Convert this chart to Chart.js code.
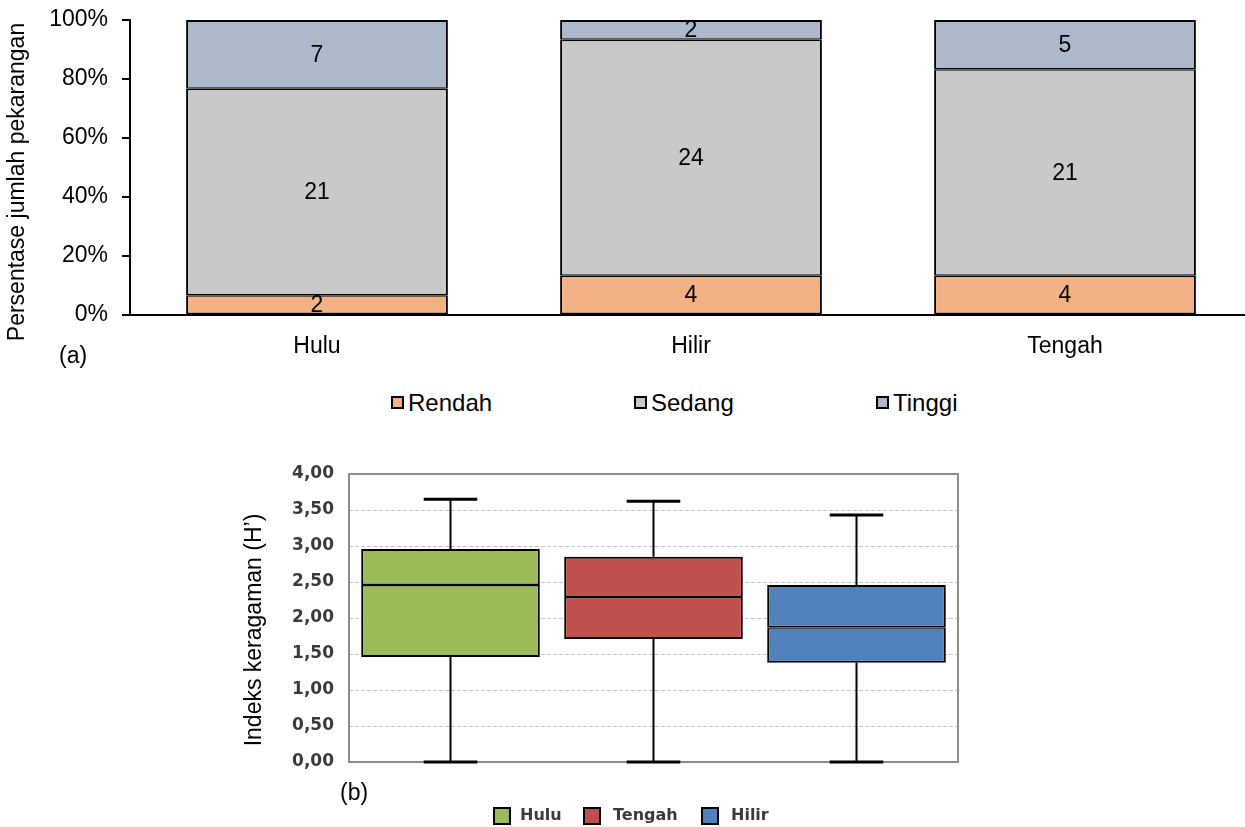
<!DOCTYPE html>
<html>
<head>
<meta charset="utf-8">
<script src="https://cdn.jsdelivr.net/npm/chart.js@4.4.0/dist/chart.umd.min.js"></script>
<style>
  body { margin:0; width:1245px; height:827px; overflow:hidden; position:relative; background:#fff; font-family:"Liberation Sans", Arial, sans-serif; }
  .box { position:absolute; }
  .lbl { position:absolute; white-space:nowrap; line-height:1; }
  .sw { position:absolute; box-sizing:border-box; border:2px solid #000; }
</style>
</head>
<body>
<div class="box" style="left:0;top:0;width:1260px;height:385px"><canvas id="chartA"></canvas></div>
<div class="box" style="left:0;top:440px;width:1245px;height:387px"><canvas id="chartB"></canvas></div>

<div class="lbl" style="left:59px;top:344px;font-size:23px">(a)</div>
<div class="lbl" style="left:340px;top:781px;font-size:23px">(b)</div>

<!-- legend (a) -->
<div class="sw" style="left:391px;top:396px;width:13px;height:13px;background:#F4B183"></div>
<div class="lbl" style="left:408px;top:391px;font-size:24px">Rendah</div>
<div class="sw" style="left:634px;top:396px;width:13px;height:13px;background:#C9C9C9"></div>
<div class="lbl" style="left:651px;top:391px;font-size:24px">Sedang</div>
<div class="sw" style="left:876px;top:396px;width:13px;height:13px;background:#ADB9CA"></div>
<div class="lbl" style="left:893px;top:391px;font-size:24px">Tinggi</div>

<!-- legend (b) -->
<div class="sw" style="left:493px;top:807px;width:18px;height:18px;background:#9BBB59"></div>
<div class="lbl" style="left:520px;top:807px;font-size:16px;font-weight:bold;font-family:'DejaVu Sans';color:#3a3a3a">Hulu</div>
<div class="sw" style="left:583px;top:807px;width:18px;height:18px;background:#C0504D"></div>
<div class="lbl" style="left:613px;top:807px;font-size:16px;font-weight:bold;font-family:'DejaVu Sans';color:#3a3a3a">Tengah</div>
<div class="sw" style="left:701px;top:807px;width:18px;height:18px;background:#4F81BD"></div>
<div class="lbl" style="left:731px;top:807px;font-size:16px;font-weight:bold;font-family:'DejaVu Sans';color:#3a3a3a">Hilir</div>

<script>
// (a) jumlah pekarangan per kategori
var sites = ['Hulu', 'Hilir', 'Tengah'];
var rendah = [2, 4, 4];
var sedang = [21, 24, 21];
var tinggi = [7, 2, 5];
var pctTicks = [0, 20, 40, 60, 80, 100];

// (b) indeks keragaman H'
var boxCats = ['Hulu', 'Tengah', 'Hilir'];
var boxMin = [0.00, 0.00, 0.00];
var boxQ1 = [1.46, 1.71, 1.38];
var boxMed = [2.46, 2.29, 1.87];
var boxQ3 = [2.96, 2.85, 2.46];
var boxMax = [3.65, 3.62, 3.43];
var boxColors = ['#9BBB59', '#C0504D', '#4F81BD'];

var FONT = '"Liberation Sans", Arial, sans-serif';

function toPct(arr) {
  return arr.map(function (v, i) { return v / (rendah[i] + sedang[i] + tinggi[i]) * 100; });
}
var counts = [rendah, sedang, tinggi];

// rotated axis title placed where the reference has it
function sideTitle(text, x, y) {
  return {
    id: 'sideTitle',
    afterDraw: function (chart) {
      var c = chart.ctx;
      c.save();
      c.translate(x, y);
      c.rotate(-Math.PI / 2);
      c.font = '23px ' + FONT;
      c.fillStyle = '#000';
      c.textAlign = 'center';
      c.textBaseline = 'middle';
      c.fillText(text, 0, 0);
      c.restore();
    }
  };
}

var countLabels = {
  id: 'countLabels',
  afterDatasetsDraw: function (chart) {
    var c = chart.ctx;
    c.save();
    c.font = '23px ' + FONT;
    c.fillStyle = '#000';
    c.textAlign = 'center';
    c.textBaseline = 'middle';
    chart.data.datasets.forEach(function (ds, d) {
      chart.getDatasetMeta(d).data.forEach(function (bar, i) {
        var p = bar.getCenterPoint();
        c.fillText(counts[d][i], p.x, p.y + 1);
      });
    });
    c.restore();
  }
};

var segBorder = { top: 1.5, bottom: 1.5, left: 2, right: 2 };

var chartA = new Chart(document.getElementById('chartA'), {
  type: 'bar',
  data: {
    labels: sites,
    datasets: [
      { label: 'Rendah', data: toPct(rendah), backgroundColor: '#F4B183', borderWidth: segBorder },
      { label: 'Sedang', data: toPct(sedang), backgroundColor: '#C9C9C9', borderWidth: segBorder },
      { label: 'Tinggi', data: toPct(tinggi), backgroundColor: '#ADB9CA', borderWidth: { top: 2, bottom: 1.5, left: 2, right: 2 } }
    ]
  },
  options: {
    responsive: true,
    maintainAspectRatio: false,
    animation: false,
    layout: { padding: { top: 20, bottom: 15, left: 0, right: 8 } },
    datasets: { bar: { borderColor: '#000', borderSkipped: false, barPercentage: 0.7, categoryPercentage: 1 } },
    plugins: { legend: { display: false }, tooltip: { enabled: false } },
    scales: {
      x: {
        stacked: true,
        grid: { display: false },
        border: { color: '#000', width: 2 },
        ticks: { color: '#000', font: { family: FONT, size: 23 }, padding: 10 },
        afterFit: function (s) { s.height = 55; s.paddingLeft = 0; s.paddingRight = 0; }
      },
      y: {
        stacked: true,
        min: 0, max: 100,
        afterBuildTicks: function (s) { s.ticks = pctTicks.map(function (v) { return { value: v }; }); },
        grid: { drawOnChartArea: false, drawTicks: true, tickLength: 8, color: '#000', lineWidth: 2 },
        border: { color: '#000', width: 2 },
        ticks: { color: '#000', font: { family: FONT, size: 23 }, padding: 14, callback: function (v) { return v + '%'; } },
        afterFit: function (s) { s.width = 130; s.paddingTop = 0; s.paddingBottom = 0; }
      }
    }
  },
  plugins: [countLabels, sideTitle('Persentase jumlah pekarangan', 18, 182)]
});

var whiskers = {
  id: 'whiskers',
  beforeDatasetsDraw: function (chart) {
    var c = chart.ctx, a = chart.chartArea, y = chart.scales.y;
    c.save();
    // frame
    c.strokeStyle = '#8c8c8c';
    c.lineWidth = 2;
    c.strokeRect(a.left, a.top, a.right - a.left, a.bottom - a.top);
    // whiskers and caps
    c.strokeStyle = '#000';
    chart.getDatasetMeta(0).data.forEach(function (bar, i) {
      var x = bar.x, half = bar.width * 0.15;
      c.lineWidth = 2;
      c.beginPath();
      c.moveTo(x, y.getPixelForValue(boxMax[i]));
      c.lineTo(x, y.getPixelForValue(boxQ3[i]));
      c.moveTo(x, y.getPixelForValue(boxQ1[i]));
      c.lineTo(x, y.getPixelForValue(boxMin[i]));
      c.stroke();
      c.lineWidth = 3;
      [boxMax[i], boxMin[i]].forEach(function (v) {
        var py = y.getPixelForValue(v);
        c.beginPath();
        c.moveTo(x - half, py);
        c.lineTo(x + half, py);
        c.stroke();
      });
    });
    c.restore();
  }
};

var chartB = new Chart(document.getElementById('chartB'), {
  type: 'bar',
  data: {
    labels: boxCats,
    datasets: [
      { label: 'lower', data: boxCats.map(function (_, i) { return [boxQ1[i], boxMed[i]]; }), backgroundColor: boxColors,
        borderWidth: { top: 1.5, bottom: 2, left: 2, right: 2 } },
      { label: 'upper', data: boxCats.map(function (_, i) { return [boxMed[i], boxQ3[i]]; }), backgroundColor: boxColors,
        borderWidth: { top: 2, bottom: 1.5, left: 2, right: 2 } }
    ]
  },
  options: {
    responsive: true,
    maintainAspectRatio: false,
    animation: false,
    layout: { padding: { top: 34, bottom: 65, left: 237, right: 287 } },
    datasets: { bar: { grouped: false, borderColor: '#000', borderSkipped: false, barPercentage: 0.88, categoryPercentage: 1 } },
    plugins: { legend: { display: false }, tooltip: { enabled: false } },
    scales: {
      x: { display: false },
      y: {
        min: 0, max: 4,
        ticks: {
          stepSize: 0.5, color: '#3a3a3a', padding: 15,
          font: { family: '"DejaVu Sans", sans-serif', size: 17, weight: 'bold' },
          callback: function (v) { return v.toFixed(2).replace('.', ','); }
        },
        grid: { color: '#c4c4c4', lineWidth: 1, drawTicks: false },
        border: { display: false, dash: [4, 2] },
        afterFit: function (s) { s.width = 112; s.paddingTop = 0; s.paddingBottom = 0; }
      }
    }
  },
  plugins: [whiskers, sideTitle('Indeks keragaman (H’)', 255, 190)]
});
</script>
</body>
</html>
